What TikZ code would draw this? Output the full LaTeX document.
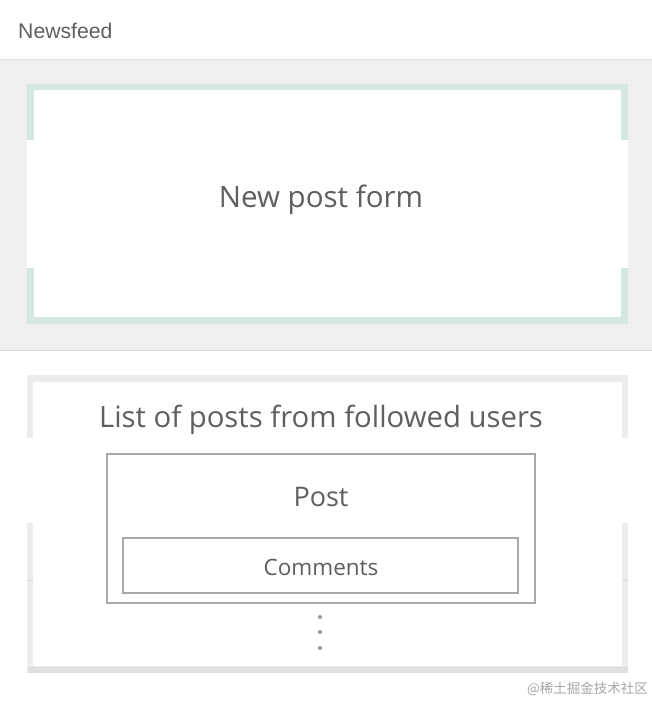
\documentclass[tikz,border=0pt]{standalone}
\usepackage{fontspec}
\setmainfont{Open Sans}
\newfontfamily\hdrfont{Liberation Sans}
\newfontfamily\cjkfont{Noto Sans CJK SC}
\definecolor{bandgray}{HTML}{EFEFEF}
\definecolor{linegray}{HTML}{DDDDDD}
\definecolor{tealb}{HTML}{D5E7E2}
\definecolor{boxgray}{HTML}{A8A8A8}
\definecolor{txtgray}{HTML}{5F5F5F}
\definecolor{shadowgray}{HTML}{ECECEC}
\tikzset{
  lbl/.style={text=txtgray, inner sep=0pt, anchor=center},
  framebox/.style={draw=boxgray, line width=1.6pt},
}
\begin{document}
\begin{tikzpicture}[x=1pt,y=-1pt]
\useasboundingbox (0,0) rectangle (652,702);
\fill[white] (0,0) rectangle (652,702);
% header
\node[lbl, anchor=west, font=\hdrfont\fontsize{21.2}{23}\selectfont] (hdr) at (18,31) {Newsfeed};
% gray band
\fill[bandgray] (0,59) rectangle (652,350);
\draw[linegray, line width=0.8pt] (0,59) -- (652,59);
\draw[linegray, line width=0.8pt] (0,350) -- (652,350);
% new post form
\fill[tealb] (27,84) rectangle (628,324);
\fill[white] (34,90) rectangle (621,317);
\fill[white] (27,140) rectangle (628,268);
\node[lbl, font=\fontsize{29.5}{34}\selectfont] (form) at (321,200) {New post form};
% list box
\fill[shadowgray] (27,375) rectangle (628,673);
\fill[black!12] (28,667) rectangle (628,673);
\fill[white] (33,382) rectangle (622,666);
\fill[white] (27,438) rectangle (33,523);
\fill[white] (622,438) rectangle (628,523);
\draw[black!15, line width=0.5pt] (27,580) -- (33,580);
\draw[black!15, line width=0.5pt] (622,580) -- (628,580);
\node[lbl, font=\fontsize{29.3}{34}\selectfont] (list) at (321,420) {List of posts from followed users};
% post box
\draw[framebox] (107,454) rectangle (535,603);
\node[lbl, font=\fontsize{27}{32}\selectfont] (post) at (321,497) {Post};
\draw[framebox] (123,538) rectangle (518,593);
\node[lbl, font=\fontsize{22.5}{26}\selectfont] (comments) at (321,567) {Comments};
% dots
\foreach \yy in {617,632,648} {
  \fill[boxgray!90!black] (320,\yy) circle (2pt);
}
% watermark
\node[lbl, anchor=east, text=black!35, font=\cjkfont\fontsize{13.5}{15}\selectfont] (wm) at (648,689) {@稀土掘金技术社区};
\end{tikzpicture}
\end{document}
